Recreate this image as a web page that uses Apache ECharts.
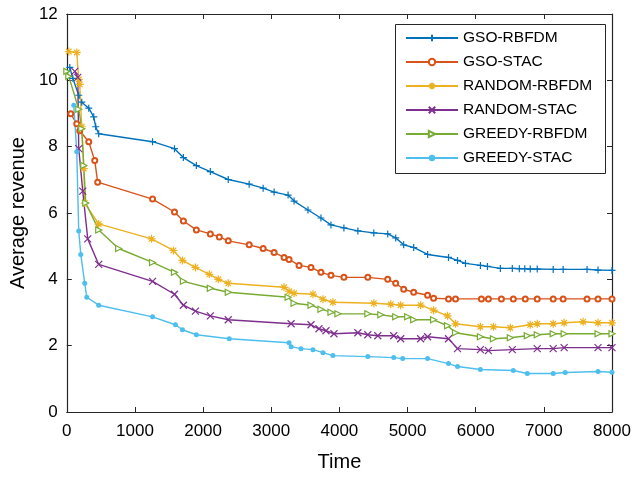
<!DOCTYPE html>
<html>
<head>
<meta charset="utf-8">
<script src="https://cdn.jsdelivr.net/npm/echarts@6/dist/echarts.min.js"></script>
<style>html,body{margin:0;padding:0;background:#fff;}#c{width:643px;height:477px;}</style>
</head>
<body>
<div id="c"></div>
<script>
// ---- data ----
var seriesNames = ['GSO-RBFDM', 'GSO-STAC', 'RANDOM-RBFDM', 'RANDOM-STAC', 'GREEDY-RBFDM', 'GREEDY-STAC'];
var xTicks = [0, 1000, 2000, 3000, 4000, 5000, 6000, 7000, 8000];
var yTicks = [0, 2, 4, 6, 8, 10, 12];

var gsoRbfdmTime = [44, 88, 175, 219, 322, 395, 424, 468, 1258, 1580, 1711, 1901, 2106, 2369, 2676, 2881, 3042, 3247, 3335, 3539, 3729, 3876, 4066, 4271, 4505, 4709, 4826, 4943, 5090, 5294, 5601, 5733, 5850, 6069, 6172, 6362, 6537, 6640, 6720, 6800, 6903, 7137, 7283, 7634, 7795, 8000];
var gsoRbfdmRev  = [10.39, 10.06, 9.55, 9.34, 9.16, 8.9, 8.6, 8.39, 8.15, 7.94, 7.67, 7.43, 7.25, 7.01, 6.87, 6.75, 6.63, 6.54, 6.36, 6.09, 5.85, 5.64, 5.55, 5.46, 5.40, 5.37, 5.25, 5.04, 4.96, 4.75, 4.66, 4.57, 4.48, 4.42, 4.39, 4.33, 4.33, 4.32, 4.32, 4.31, 4.31, 4.30, 4.30, 4.30, 4.28, 4.27];

var gsoStacTime = [58, 146, 190, 322, 410, 453, 1258, 1580, 1711, 1901, 2106, 2238, 2369, 2676, 2881, 3042, 3188, 3261, 3408, 3583, 3729, 3876, 4066, 4417, 4709, 4826, 4943, 5090, 5294, 5382, 5601, 5704, 6084, 6186, 6377, 6552, 6727, 6903, 7137, 7283, 7634, 7795, 8000];
var gsoStacRev  = [8.99, 8.69, 8.48, 8.15, 7.58, 6.93, 6.42, 6.03, 5.76, 5.49, 5.37, 5.28, 5.16, 5.04, 4.93, 4.81, 4.66, 4.60, 4.42, 4.36, 4.21, 4.12, 4.06, 4.06, 4.0, 3.88, 3.70, 3.61, 3.52, 3.43, 3.41, 3.41, 3.41, 3.41, 3.41, 3.41, 3.41, 3.41, 3.41, 3.41, 3.41, 3.41, 3.41];

var randRbfdmTime = [29, 146, 175, 190, 219, 249, 263, 468, 1243, 1565, 1697, 1887, 2091, 2223, 2369, 3188, 3261, 3335, 3612, 3759, 3905, 4505, 4753, 4899, 5192, 5382, 5587, 5704, 6069, 6260, 6508, 6800, 6903, 7137, 7298, 7576, 7795, 8000];
var randRbfdmRev  = [10.87, 10.84, 10.03, 9.88, 8.6, 7.34, 6.30, 5.67, 5.22, 4.87, 4.57, 4.36, 4.15, 4.0, 3.88, 3.76, 3.64, 3.58, 3.55, 3.40, 3.31, 3.28, 3.25, 3.22, 3.22, 3.07, 2.90, 2.66, 2.57, 2.57, 2.54, 2.63, 2.66, 2.66, 2.69, 2.72, 2.69, 2.69];

var randStacTime = [117, 161, 175, 234, 307, 468, 1258, 1580, 1711, 1887, 2106, 2369, 3291, 3583, 3700, 3803, 3920, 4271, 4417, 4563, 4797, 4899, 5192, 5294, 5601, 5733, 6069, 6186, 6537, 6903, 7137, 7298, 7795, 8000];
var randStacRev  = [10.27, 10.09, 7.94, 6.66, 5.22, 4.45, 3.94, 3.55, 3.22, 3.04, 2.90, 2.78, 2.66, 2.63, 2.51, 2.45, 2.36, 2.39, 2.33, 2.30, 2.30, 2.21, 2.21, 2.27, 2.21, 1.91, 1.88, 1.85, 1.88, 1.91, 1.91, 1.94, 1.94, 1.94];

var greedyRbfdmTime = [0, 29, 175, 219, 249, 278, 468, 760, 1258, 1580, 1711, 2106, 2369, 3247, 3335, 3583, 3729, 3876, 3978, 4417, 4607, 4826, 5002, 5090, 5382, 5587, 5704, 6069, 6260, 6508, 6757, 6903, 7137, 7298, 7795, 8000];
var greedyRbfdmRev  = [10.27, 10.12, 9.13, 8.54, 7.43, 6.30, 5.49, 4.93, 4.51, 4.21, 3.94, 3.73, 3.61, 3.46, 3.28, 3.22, 3.10, 3.01, 2.96, 2.96, 2.93, 2.87, 2.87, 2.78, 2.78, 2.60, 2.39, 2.27, 2.21, 2.24, 2.30, 2.33, 2.36, 2.36, 2.36, 2.36];

var greedyStacTime = [102, 146, 175, 205, 263, 293, 468, 1258, 1594, 1697, 1901, 2384, 3261, 3291, 3437, 3612, 3759, 3905, 4417, 4797, 4929, 5294, 5601, 5733, 6069, 6552, 6757, 7137, 7313, 7795, 8000];
var greedyStacRev  = [9.25, 7.85, 5.46, 4.75, 3.88, 3.46, 3.22, 2.87, 2.63, 2.48, 2.33, 2.21, 2.09, 1.97, 1.91, 1.88, 1.79, 1.70, 1.67, 1.64, 1.61, 1.61, 1.46, 1.37, 1.28, 1.25, 1.16, 1.16, 1.19, 1.22, 1.20];

// ---- build ----
function zip(xs, ys) { return xs.map(function (x, i) { return [x, ys[i]]; }); }
var allData = [
  zip(gsoRbfdmTime, gsoRbfdmRev),
  zip(gsoStacTime, gsoStacRev),
  zip(randRbfdmTime, randRbfdmRev),
  zip(randStacTime, randStacRev),
  zip(greedyRbfdmTime, greedyRbfdmRev),
  zip(greedyStacTime, greedyStacRev)
];
var colors = ['#0072BD', '#D95319', '#EDB120', '#7E2F8E', '#77AC30', '#4DBEEE'];
var symbols = [
  'path://M5,0L5,10M0,5L10,5',
  'emptyCircle',
  'path://M5,0L5,10M0,5L10,5M1.5,1.5L8.5,8.5M8.5,1.5L1.5,8.5',
  'path://M0,0L10,10M10,0L0,10',
  'path://M0,0L10,5L0,10Z',
  'circle'
];
var sizes = [7, 5, 8, 7, 6, 5];
var fills = [null, null, null, null, '#fff', null];

var font = 'Liberation Sans, Arial, sans-serif';
var axisCol = '#262626';

var series = seriesNames.map(function (name, i) {
  return {
    name: name,
    type: 'line',
    data: allData[i],
    symbol: symbols[i],
    symbolSize: sizes[i],
    showAllSymbol: true,
    animation: false,
    lineStyle: { color: colors[i], width: 1.4 },
    itemStyle: {
      color: fills[i] || colors[i],
      borderColor: colors[i],
      borderWidth: (i === 5 ? 0 : 1.2)
    },
    emphasis: { disabled: true }
  };
});

var chart = echarts.init(document.getElementById('c'), null, { renderer: 'canvas' });
chart.setOption({
  backgroundColor: '#fff',
  animation: false,
  color: colors,
  grid: { left: 65, right: 31, top: 14, bottom: 61 },
  xAxis: [{
    type: 'value', min: xTicks[0], max: xTicks[xTicks.length - 1], interval: 1000,
    name: 'Time', nameLocation: 'middle', nameGap: 40,
    nameTextStyle: { fontFamily: font, fontSize: 20, color: '#000' },
    axisLine: { show: true, lineStyle: { color: axisCol, width: 1.2 } },
    axisTick: { show: true, inside: true, length: 5, lineStyle: { color: axisCol } },
    axisLabel: { fontFamily: font, fontSize: 17, color: '#000', margin: 11, formatter: function (v) { return String(v); } },
    splitLine: { show: false }
  }, {
    type: 'value', position: 'top', min: xTicks[0], max: xTicks[xTicks.length - 1], interval: 1000,
    axisLine: { show: true, onZero: false, lineStyle: { color: axisCol, width: 1.2 } },
    axisTick: { show: true, inside: true, length: 5, lineStyle: { color: axisCol } },
    axisLabel: { show: false }, splitLine: { show: false }
  }],
  yAxis: [{
    type: 'value', min: yTicks[0], max: yTicks[yTicks.length - 1], interval: 2,
    name: 'Average revenue', nameLocation: 'middle', nameGap: 34, nameRotate: 90,
    nameTextStyle: { fontFamily: font, fontSize: 20, color: '#000' },
    axisLine: { show: true, lineStyle: { color: axisCol, width: 1.2 } },
    axisTick: { show: true, inside: true, length: 5, lineStyle: { color: axisCol } },
    axisLabel: { fontFamily: font, fontSize: 17, color: '#000', margin: 9 },
    splitLine: { show: false }
  }, {
    type: 'value', position: 'right', min: yTicks[0], max: yTicks[yTicks.length - 1], interval: 2,
    axisLine: { show: true, onZero: false, lineStyle: { color: axisCol, width: 1.2 } },
    axisTick: { show: true, inside: true, length: 5, lineStyle: { color: axisCol } },
    axisLabel: { show: false }, splitLine: { show: false }
  }],
  legend: {
    orient: 'vertical', left: 405, top: 30, padding: 0,
    itemWidth: 52, itemHeight: 8, itemGap: 8,
    textStyle: { fontFamily: font, fontSize: 15.5, color: '#000', lineHeight: 14 },
    data: seriesNames
  },
  graphic: [{
    type: 'rect', left: 393, top: 22, z: 100, silent: true,
    shape: { width: 210, height: 149 },
    style: { fill: 'none', stroke: axisCol, lineWidth: 1 }
  }],
  series: series
});
</script>
</body>
</html>
